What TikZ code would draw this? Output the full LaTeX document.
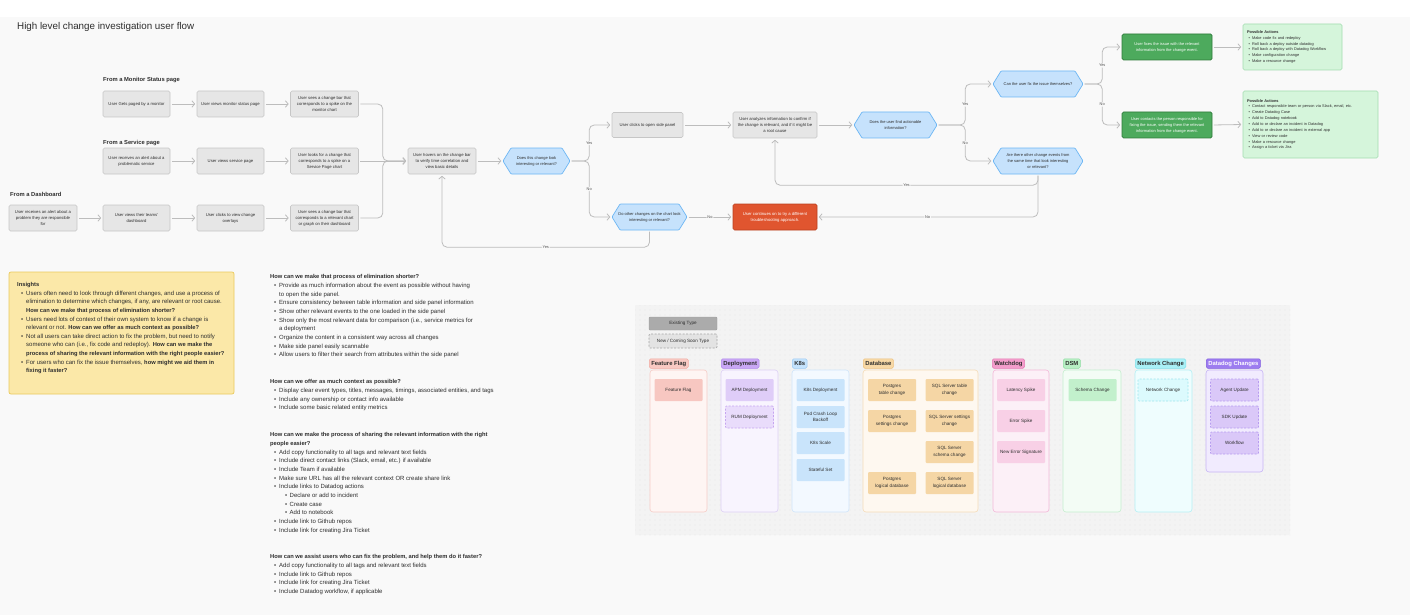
\documentclass[tikz,border=0pt]{standalone}
\usepackage{fontspec}
\setmainfont{Liberation Sans}
\usetikzlibrary{arrows.meta,patterns.meta}
\definecolor{bg}{HTML}{F9F9F9}
\definecolor{panelbg}{HTML}{F3F3F3}
\definecolor{dotcol}{HTML}{DADADA}
\definecolor{boxfill}{HTML}{E6E6E6}
\definecolor{boxline}{HTML}{C6C6C6}
\definecolor{conncol}{HTML}{BDBDBD}
\definecolor{textdark}{HTML}{2E2E2E}
\definecolor{textmid}{HTML}{555555}
\definecolor{hexfill}{HTML}{C6E2FC}
\definecolor{hexline}{HTML}{6CB6F4}
\definecolor{redfill}{HTML}{E0552F}
\definecolor{redline}{HTML}{B9411F}
\definecolor{grnfill}{HTML}{4DAA5D}
\definecolor{grnline}{HTML}{2E7A3A}
\definecolor{pafill}{HTML}{D5F5DB}
\definecolor{paline}{HTML}{A3DCB0}
\definecolor{insfill}{HTML}{FBE8A8}
\definecolor{insline}{HTML}{EACB5E}
% categories
\definecolor{ffTag}{HTML}{F8C9C3}\definecolor{ffLine}{HTML}{F1ABA2}\definecolor{ffCol}{HTML}{FEF5F3}\definecolor{ffColL}{HTML}{F6CDC7}\definecolor{ffItem}{HTML}{F7C7C1}
\definecolor{dpTag}{HTML}{C9A7F5}\definecolor{dpLine}{HTML}{AE86EC}\definecolor{dpCol}{HTML}{F8F4FE}\definecolor{dpColL}{HTML}{DDD0F5}\definecolor{dpItem}{HTML}{DFCDF8}\definecolor{dpNew}{HTML}{E9DCFB}\definecolor{dpNewL}{HTML}{C6A4F0}
\definecolor{k8Tag}{HTML}{C4E2FC}\definecolor{k8Line}{HTML}{9CCBF4}\definecolor{k8Col}{HTML}{F3F9FF}\definecolor{k8ColL}{HTML}{CFE5FA}\definecolor{k8Item}{HTML}{C9E4FB}
\definecolor{dbTag}{HTML}{F7D8A6}\definecolor{dbLine}{HTML}{EDC17D}\definecolor{dbCol}{HTML}{FEF8F0}\definecolor{dbColL}{HTML}{F5DCB8}\definecolor{dbItem}{HTML}{F5D6A5}
\definecolor{wdTag}{HTML}{F39DCB}\definecolor{wdLine}{HTML}{E57AB5}\definecolor{wdCol}{HTML}{FCF0F7}\definecolor{wdColL}{HTML}{F3B8D9}\definecolor{wdItem}{HTML}{F8D0E6}
\definecolor{dsTag}{HTML}{B8EFC4}\definecolor{dsLine}{HTML}{8FDDA2}\definecolor{dsCol}{HTML}{F3FCF5}\definecolor{dsColL}{HTML}{C5EECF}\definecolor{dsItem}{HTML}{C2F0CC}
\definecolor{ncTag}{HTML}{A9F0F6}\definecolor{ncLine}{HTML}{7FE0EA}\definecolor{ncCol}{HTML}{EFFDFE}\definecolor{ncColL}{HTML}{B5F0F5}\definecolor{ncItem}{HTML}{DCFAFD}\definecolor{ncNewL}{HTML}{9EE6EE}
\definecolor{ddTag}{HTML}{9D7CF0}\definecolor{ddLine}{HTML}{7F5BE0}\definecolor{ddCol}{HTML}{F1EBFE}\definecolor{ddColL}{HTML}{C7B5F5}\definecolor{ddItem}{HTML}{DAC8F8}\definecolor{ddNewL}{HTML}{B79CF0}
\newcommand{\mybul}{\hspace*{4pt}\makebox[5pt][l]{\textbullet}}
\newcommand{\mycont}{\hspace*{9pt}}
\newcommand{\mysub}{\hspace*{15pt}\makebox[4.5pt][l]{\textbullet}}
\newcommand{\pab}{\hspace*{1.5pt}\makebox[3.5pt][l]{\textbullet}}
\newcommand{\hb}[1]{{\fontsize{5.75}{8.67}\selectfont\bfseries #1}}
\newcommand{\hexnode}[6]{%
  \filldraw[hexst] ({#2-#4/2},#3) -- ({#2-#4/2+8},{#3-#5/2}) -- ({#2+#4/2-8},{#3-#5/2}) -- ({#2+#4/2},#3) -- ({#2+#4/2-8},{#3+#5/2}) -- ({#2-#4/2+8},{#3+#5/2}) -- cycle;
  \node[hextxt, minimum width=#4, minimum height=#5] (#1) at (#2,#3) {#6};}
\begin{document}
\begin{tikzpicture}[x=1pt,y=-1pt,
  arr/.style={draw=conncol, line width=0.8pt, rounded corners=5pt, shorten >=1.5pt, shorten <=1.5pt,
    -{Straight Barb[length=2.8pt,width=6.5pt,line width=0.8pt]}},
  lbl/.style={fill=bg, inner sep=0.8pt, font=\fontsize{3.9}{4.5}\selectfont, text=textmid},
  fbox/.style={draw=boxline, fill=boxfill, rounded corners=1.5pt, line width=0.6pt, align=center, inner sep=0pt,
    minimum width=67, minimum height=26, font=\fontsize{4.2}{6}\selectfont, text=textdark},
  hexst/.style={draw=hexline, fill=hexfill, line width=0.7pt, rounded corners=0.8pt},
  hextxt/.style={align=center, inner sep=0pt, font=\fontsize{4.0}{6}\selectfont, text=textdark},
  gbox/.style={draw=grnline, fill=grnfill, rounded corners=1.5pt, line width=0.7pt, align=center, inner sep=0pt,
    minimum width=90, minimum height=26, font=\fontsize{4.0}{6}\selectfont, text=white},
  pabox/.style={draw=paline, fill=pafill, rounded corners=1.5pt, line width=0.6pt, align=left, inner xsep=4pt, inner ysep=0pt,
    font=\fontsize{3.9}{5.85}\selectfont, text=textdark},
  head/.style={anchor=west, inner sep=0pt, font=\bfseries\fontsize{5.8}{7}\selectfont, text=textdark},
  txtblk/.style={anchor=north west, align=left, inner sep=0pt, font=\fontsize{6.0}{8.67}\selectfont, text=textdark},
  tagst/.style={anchor=west, rounded corners=1.5pt, inner xsep=2pt, inner ysep=0pt, minimum height=9.5, line width=0.5pt,
    font=\bfseries\fontsize{5.9}{6.5}\selectfont, text=textdark},
  colst/.style={rounded corners=3pt, line width=0.6pt},
  itemst/.style={rounded corners=1pt, minimum width=48, minimum height=22, align=center, inner sep=0pt,
    font=\fontsize{4.6}{6.6}\selectfont, text=textdark},
  newst/.style={dash pattern=on 2pt off 1.5pt, line width=0.6pt},
]
\useasboundingbox (0,0) rectangle (1410,615);
\fill[white] (0,0) rectangle (1410,615);
\fill[bg] (0,17) rectangle (1410,615);

\node[anchor=west, inner sep=0pt, font=\fontsize{9.8}{12}\selectfont, text=textdark] (title) at (17,27) {High level change investigation user flow};

% ---------- flow ----------
\node[head] (hMon) at (103,80) {From a Monitor Status page};
\node[head] (hSvc) at (103,143) {From a Service page};
\node[head] (hDash) at (10,194) {From a Dashboard};

\node[fbox] (A1) at (136.5,104) {User Gets paged by a monitor};
\node[fbox] (A2) at (230.5,104) {User views monitor status page};
\node[fbox, minimum width=68] (A3) at (324.5,104) {User sees a change bar that\\corresponds to a spike on the\\monitor chart};
\node[fbox] (B1) at (136.5,161) {User receives an alert about a\\problematic service};
\node[fbox] (B2) at (230.5,161) {User views service page};
\node[fbox, minimum width=68] (B3) at (324.5,161) {User looks for a change that\\corresponds to a spike on a\\Service Page chart};
\node[fbox, minimum width=68] (C1) at (43,218) {User receives an alert about a\\problem they are responsible\\for};
\node[fbox] (C2) at (136.5,218) {User views their teams'\\dashboard};
\node[fbox] (C3) at (230.5,218) {User clicks to view change\\overlays};
\node[fbox, minimum width=68] (C4) at (324.5,218) {User sees a change bar that\\corresponds to a relevant chart\\or graph on their dashboard};

\node[fbox, minimum width=68] (hov) at (442,161) {User hovers on the change bar\\to verify time correlation and\\view basic details};
\hexnode{D1}{536.5}{161}{67}{26}{Does this change look\\interesting or relevant?}
\node[fbox, minimum width=71, minimum height=25] (side) at (647.5,125) {User clicks to open side panel};
\hexnode{D2}{649.5}{217}{75}{26}{Do other changes on the chart look\\interesting or relevant?}
\node[fbox, draw=redline, fill=redfill, text=white, minimum width=84] (red) at (775,217) {User continues on to try a different\\troubleshooting approach.};
\node[fbox, minimum width=84] (ana) at (775,125) {User analyzes information to confirm if\\the change is relevant, and if it might be\\a root cause};
\hexnode{D3}{895.5}{125}{83}{26}{Does the user find actionable\\information?}
\hexnode{D4}{1038}{84}{90}{26}{Can the user fix the issue themselves?}
\hexnode{D5}{1038}{161}{90}{26}{Are there other change events from\\the same time that look interesting\\or relevant?}
\node[gbox] (G1) at (1167,47) {User fixes the issue with the relevant\\information from the change event.};
\node[gbox] (G2) at (1167,125) {User contacts the person responsible for\\fixing the issue, sending them the relevant\\information from the change event.};

\node[pabox, minimum width=99, minimum height=46, text width=91] (PA1) at (1292.5,47) {\textbf{Possible Actions}\\
\pab Make code fix and redeploy\\
\pab Roll back a deploy outside datadog\\
\pab Roll back a deploy with Datadog Workflow\\
\pab Make configuration change\\
\pab Make a resource change};
\node[pabox, minimum width=135, minimum height=67, text width=127] (PA2) at (1310.5,124.5) {\textbf{Possible Actions}\\
\pab Contact responsible team or person via Slack, email, etc.\\
\pab Create Datadog Case\\
\pab Add to Datadog notebook\\
\pab Add to or declare an incident in Datadog\\
\pab Add to or declare an incident in external app\\
\pab View or review code\\
\pab Make a resource change\\
\pab Assign a ticket via Jira};

% connectors
\draw[arr] (A1.east) -- (A2.west);
\draw[arr] (A2.east) -- (A3.west);
\draw[arr] (B1.east) -- (B2.west);
\draw[arr] (B2.east) -- (B3.west);
\draw[arr] (C1.east) -- (C2.west);
\draw[arr] (C2.east) -- (C3.west);
\draw[arr] (C3.east) -- (C4.west);
\draw[arr] (A3.east) -- ++(24,0) |- (hov.west);
\draw[arr] (B3.east) -- (hov.west);
\draw[arr] (C4.east) -- ++(24,0) |- (hov.west);
\draw[arr] (hov.east) -- (D1.west);
\draw[arr] (D1.east) -- ++(19,0) |- node[lbl,pos=0.25]{Yes} (side.west);
\draw[arr] (D1.east) -- ++(19,0) |- node[lbl,pos=0.25]{No} (D2.west);
\draw[arr] (D2.east) -- node[lbl]{No} (red.west);
\draw[arr] (D2.south) -- ++(0,17) -| node[lbl,pos=0.25]{Yes} (hov.south);
\draw[arr] (side.east) -- (ana.west);
\draw[arr] (ana.east) -- (D3.west);
\draw[arr] (D3.east) -- ++(28,0) |- node[lbl,pos=0.25]{Yes} (D4.west);
\draw[arr] (D3.east) -- ++(28,0) |- node[lbl,pos=0.25]{No} (D5.west);
\draw[arr] (D5.south) -- ++(0,11) -| node[lbl,pos=0.25]{Yes} (ana.south);
\draw[arr] (D5.south) |- node[lbl,pos=0.75]{No} (red.east);
\draw[arr] (D4.east) -- ++(19,0) |- node[lbl,pos=0.25]{Yes} (G1.west);
\draw[arr] (D4.east) -- ++(19,0) |- node[lbl,pos=0.25]{No} (G2.west);
\draw[arr] (G1.east) -- (PA1.west);
\draw[arr] (G2.east) -- (PA2.west);

% ---------- insights ----------
\draw[draw=insline, fill=insfill, line width=0.7pt, rounded corners=2pt] (9,272) rectangle (234,394);
\node[txtblk, font=\fontsize{6.0}{8.6}\selectfont] (ins) at (17,282.3) {\hb{Insights}\\
\mybul Users often need to look through different changes, and use a process of\\
\mycont elimination to determine which changes, if any, are relevant or root cause.\\
\mycont\hb{How can we make that process of elimination shorter?}\\
\mybul Users need lots of context of their own system to know if a change is\\
\mycont relevant or not. \hb{How can we offer as much context as possible?}\\
\mybul Not all users can take direct action to fix the problem, but need to notify\\
\mycont someone who can (i.e., fix code and redeploy). \hb{How can we make the}\\
\mycont\hb{process of sharing the relevant information with the right people easier?}\\
\mybul For users who can fix the issue themselves, \hb{how might we aid them in}\\
\mycont\hb{fixing it faster?}};

% ---------- text blocks ----------
\node[txtblk] (q1) at (270,274.5) {\hb{How can we make that process of elimination shorter?}\\
\mybul Provide as much information about the event as possible without having\\
\mycont to open the side panel.\\
\mybul Ensure consistency between table information and side panel information\\
\mybul Show other relevant events to the one loaded in the side panel\\
\mybul Show only the most relevant data for comparison (i.e., service metrics for\\
\mycont a deployment\\
\mybul Organize the content in a consistent way across all changes\\
\mybul Make side panel easily scannable\\
\mybul Allow users to filter their search from attributes within the side panel};
\node[txtblk] (q2) at (270,379.5) {\hb{How can we offer as much context as possible?}\\
\mybul Display clear event types, titles, messages, timings, associated entities, and tags\\
\mybul Include any ownership or contact info available\\
\mybul Include some basic related entity metrics};
\node[txtblk] (q3) at (270,432.5) {\hb{How can we make the process of sharing the relevant information with the right}\\
\hb{people easier?}\\
\mybul Add copy functionality to all tags and relevant text fields\\
\mybul Include direct contact links (Slack, email, etc.) if available\\
\mybul Include Team if available\\
\mybul Make sure URL has all the relevant context OR create share link\\
\mybul Include links to Datadog actions\\
\mysub Declare or add to incident\\
\mysub Create case\\
\mysub Add to notebook\\
\mybul Include link to Github repos\\
\mybul Include link for creating Jira Ticket};
\node[txtblk] (q4) at (270,554.5) {\hb{How can we assist users who can fix the problem, and help them do it faster?}\\
\mybul Add copy functionality to all tags and relevant text fields\\
\mybul Include link to Github repos\\
\mybul Include link for creating Jira Ticket\\
\mybul Include Datadog workflow, if applicable};

% ---------- change types panel ----------
\fill[panelbg, rounded corners=2pt] (635,305) rectangle (1290,535);
\fill[pattern={Dots[distance=5pt,radius=0.35pt]}, pattern color=dotcol] (635,305) rectangle (1290,535);

\node[itemst, minimum width=68, minimum height=13, draw=black!38, fill=black!33] (legE) at (683,323.5) {Existing Type};
\node[itemst, minimum width=68, minimum height=14, newst, draw=black!35, fill=black!11] (legN) at (683,341) {New / Coming Soon Type};

% columns
\draw[colst, draw=ffColL, fill=ffCol] (650,370) rectangle (707,512);
\draw[colst, draw=dpColL, fill=dpCol] (721,370) rectangle (778,512);
\draw[colst, draw=k8ColL, fill=k8Col] (792,370) rectangle (849,512);
\draw[colst, draw=dbColL, fill=dbCol] (863,370) rectangle (978,512);
\draw[colst, draw=wdColL, fill=wdCol] (993,370) rectangle (1049,512);
\draw[colst, draw=dsColL, fill=dsCol] (1063,370) rectangle (1121,512);
\draw[colst, draw=ncColL, fill=ncCol] (1135,370) rectangle (1192,512);
\draw[colst, draw=ddColL, fill=ddCol] (1206,370) rectangle (1263,472);

% tags
\node[tagst, draw=ffLine, fill=ffTag] (tFF) at (649,363.5) {Feature Flag};
\node[tagst, draw=dpLine, fill=dpTag] (tDP) at (721,363.5) {Deployment};
\node[tagst, draw=k8Line, fill=k8Tag] (tK8) at (792,363.5) {K8s};
\node[tagst, draw=dbLine, fill=dbTag] (tDB) at (863,363.5) {Database};
\node[tagst, draw=wdLine, fill=wdTag] (tWD) at (992,363.5) {Watchdog};
\node[tagst, draw=dsLine, fill=dsTag] (tDS) at (1063,363.5) {DSM};
\node[tagst, draw=ncLine, fill=ncTag] (tNC) at (1135,363.5) {Network Change};
\node[tagst, draw=ddLine, fill=ddTag, text=white] (tDD) at (1206,363.5) {Datadog Changes};

% items
\node[itemst, fill=ffItem] (iFF) at (678.5,390) {Feature Flag};
\node[itemst, fill=dpItem] (iAPM) at (749.5,390) {APM Deployment};
\node[itemst, fill=dpNew, draw=dpNewL, newst] (iRUM) at (749.5,417) {RUM Deployment};
\node[itemst, fill=k8Item] (iK1) at (820.5,390) {K8s Deployment};
\node[itemst, fill=k8Item] (iK2) at (820.5,417) {Pod Crash Loop\\Backoff};
\node[itemst, fill=k8Item] (iK3) at (820.5,443) {K8s Scale};
\node[itemst, fill=k8Item] (iK4) at (820.5,470) {Stateful Set};
\node[itemst, fill=dbItem] (iP1) at (892,390) {Postgres\\table change};
\node[itemst, fill=dbItem] (iP2) at (892,421) {Postgres\\settings change};
\node[itemst, fill=dbItem] (iP3) at (892,483) {Postgres\\logical database};
\node[itemst, fill=dbItem] (iS1) at (949.5,390) {SQL Server table\\change};
\node[itemst, fill=dbItem] (iS2) at (949.5,421) {SQL Server settings\\change};
\node[itemst, fill=dbItem] (iS3) at (949.5,452) {SQL Server\\schema change};
\node[itemst, fill=dbItem] (iS4) at (949.5,483) {SQL Server\\logical database};
\node[itemst, fill=wdItem] (iW1) at (1021,390) {Latency Spike};
\node[itemst, fill=wdItem] (iW2) at (1021,421) {Error Spike};
\node[itemst, fill=wdItem] (iW3) at (1021,452) {New Error Signature};
\node[itemst, fill=dsItem] (iD1) at (1092.5,390) {Schema Change};
\node[itemst, fill=ncItem, draw=ncNewL, newst, minimum width=50] (iN1) at (1163,390) {Network Change};
\node[itemst, fill=ddItem, draw=ddNewL, newst] (iA1) at (1234.5,390) {Agent Update};
\node[itemst, fill=ddItem, draw=ddNewL, newst] (iA2) at (1234.5,417) {SDK Update};
\node[itemst, fill=ddItem, draw=ddNewL, newst] (iA3) at (1234.5,443) {Workflow};
\end{tikzpicture}
\end{document}
